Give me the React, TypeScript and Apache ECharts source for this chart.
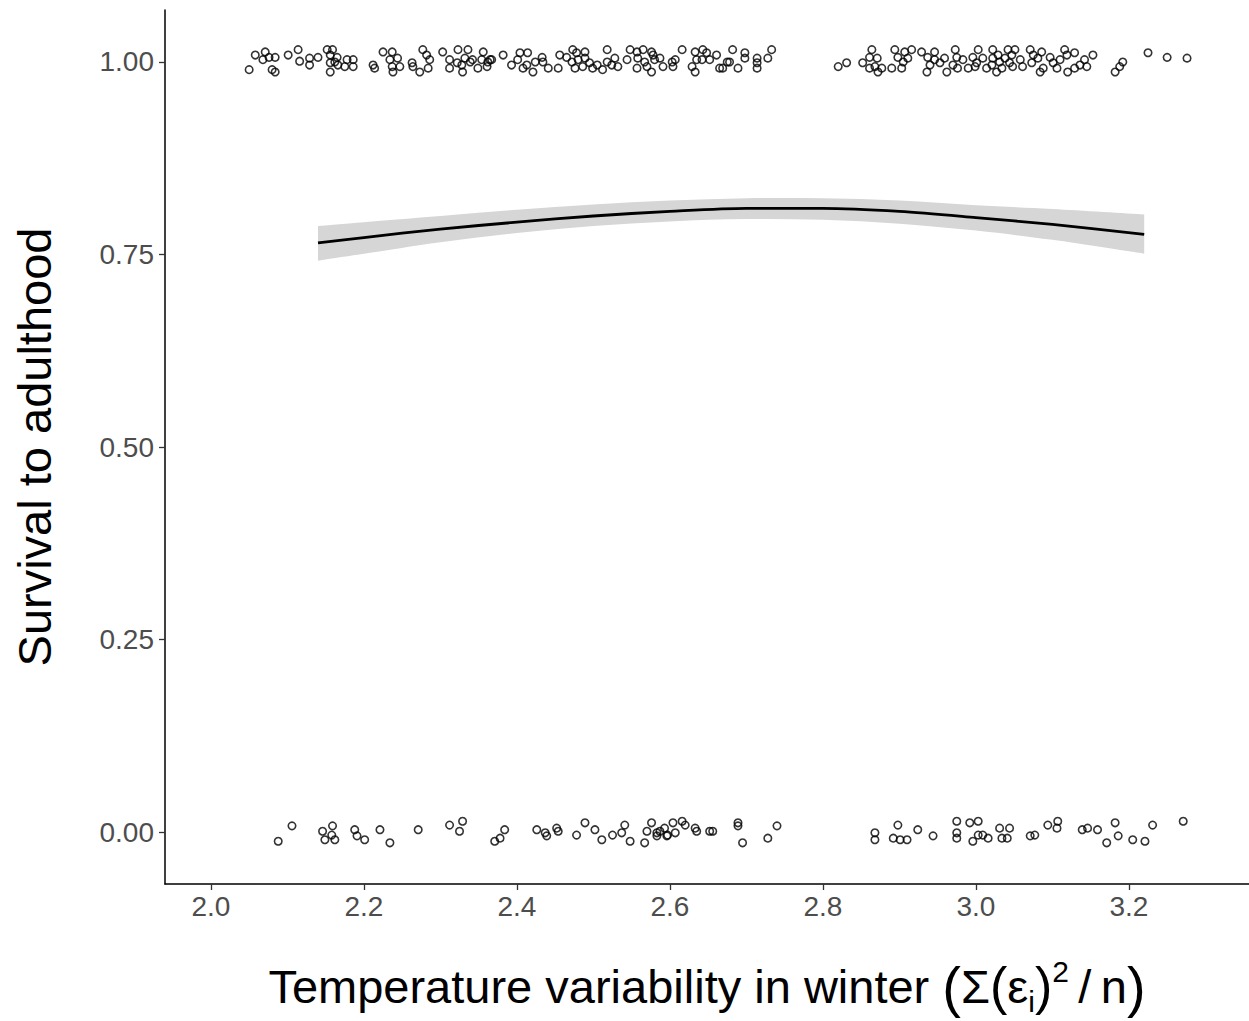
import React, { useEffect, useRef } from "react";
import * as echarts from "echarts";

// Jittered observations: survived (≈1) and died (≈0)
const survivedX = [
  2.050, 2.058, 2.068, 2.071, 2.076, 2.084, 2.080, 2.084, 2.101, 2.114, 2.116, 2.129, 2.129, 2.140, 2.152, 2.159, 2.156, 2.165, 2.156, 2.162,
  2.166, 2.156, 2.178, 2.175, 2.186, 2.186, 2.212, 2.214, 2.225, 2.237, 2.234, 2.244, 2.237, 2.247, 2.238, 2.263, 2.264, 2.277, 2.282, 2.286,
  2.284, 2.273, 2.303, 2.312, 2.323, 2.336, 2.322, 2.328, 2.329, 2.339, 2.342, 2.356, 2.354, 2.362, 2.361, 2.349, 2.365, 2.312, 2.332,
  2.367, 2.382, 2.393, 2.404, 2.414, 2.401, 2.408, 2.413, 2.424, 2.421, 2.433, 2.434, 2.441, 2.454, 2.456, 2.465, 2.473, 2.478, 2.472, 2.480,
  2.489, 2.489, 2.486, 2.476, 2.495, 2.499, 2.505, 2.512, 2.518, 2.518, 2.528, 2.524, 2.532, 2.544, 2.548, 2.557, 2.558, 2.557, 2.565, 2.567,
  2.570, 2.576, 2.578, 2.580, 2.587, 2.576, 2.591, 2.603, 2.607, 2.604, 2.616, 2.633, 2.635, 2.643, 2.648, 2.642, 2.652, 2.661, 2.629, 2.633,
  2.665, 2.675, 2.669, 2.682, 2.689, 2.698, 2.698, 2.714, 2.714, 2.714, 2.728, 2.733, 2.678,
  2.820, 2.831, 2.852, 2.864, 2.861, 2.871, 2.861, 2.868, 2.872, 2.877, 2.894, 2.890, 2.898, 2.903, 2.907, 2.905, 2.916, 2.929, 2.911, 2.937,
  2.940, 2.936, 2.946, 2.946, 2.953, 2.959, 2.962, 2.973, 2.975, 2.970, 2.976, 2.983, 2.990, 2.996, 3.003, 3.001, 2.999, 3.009, 3.014, 3.021,
  3.022, 3.029, 3.031, 3.027, 3.038, 3.042, 3.047, 3.051, 3.044, 3.048, 3.058, 3.061, 3.071, 3.075, 3.081, 3.086, 3.088, 3.084, 3.097, 3.106,
  3.110, 3.116, 3.119, 3.129, 3.120, 3.129, 3.136, 3.142, 3.145, 3.153, 3.182, 3.188, 3.192, 3.225, 3.250, 3.276, 3.022, 3.034, 3.073, 3.101,
];
const survivedY = [
  0.990, 1.009, 1.003, 1.013, 1.006, 1.006, 0.990, 0.987, 1.009, 1.016, 1.001, 1.005, 0.996, 1.006, 1.016, 1.016, 1.009, 1.006, 0.999, 1.000,
  0.996, 0.987, 1.003, 0.994, 1.003, 0.994, 0.996, 0.992, 1.013, 1.013, 1.003, 1.005, 0.994, 0.994, 0.987, 0.999, 0.994, 1.016, 1.009, 1.003,
  0.992, 0.987, 1.013, 1.003, 1.016, 1.016, 0.999, 0.996, 0.987, 1.000, 1.003, 1.013, 1.003, 1.000, 0.994, 0.992, 1.003, 0.992, 1.005,
  1.003, 1.009, 0.996, 1.012, 1.012, 1.003, 0.992, 0.996, 1.000, 0.987, 1.006, 1.000, 0.992, 0.992, 1.009, 1.006, 1.016, 1.012, 1.000, 1.003,
  1.013, 1.005, 0.994, 0.992, 0.999, 0.992, 0.996, 0.990, 1.016, 1.000, 1.005, 0.996, 0.994, 1.003, 1.016, 1.013, 1.005, 0.992, 1.016, 1.000,
  0.994, 1.013, 1.009, 1.003, 1.005, 0.987, 0.994, 1.000, 1.003, 0.994, 1.016, 1.013, 1.003, 1.016, 1.012, 1.003, 1.003, 1.009, 0.994, 0.987,
  0.992, 1.000, 0.992, 1.016, 0.992, 1.012, 1.005, 1.005, 0.999, 0.992, 1.005, 1.016, 1.000,
  0.994, 0.999, 0.999, 1.016, 1.006, 1.005, 0.992, 0.994, 0.987, 0.992, 1.016, 0.992, 1.006, 0.992, 1.013, 1.000, 1.016, 1.013, 1.005, 1.006,
  0.996, 0.987, 1.013, 1.003, 0.999, 1.005, 0.987, 1.016, 1.006, 0.996, 0.992, 1.003, 0.992, 1.006, 1.016, 0.999, 0.994, 1.005, 0.992, 0.996,
  1.005, 1.009, 1.000, 0.987, 1.005, 1.016, 1.009, 1.016, 0.999, 0.994, 1.003, 0.994, 1.016, 1.009, 1.005, 1.013, 0.992, 0.987, 1.006, 0.992,
  1.003, 1.016, 1.009, 1.012, 0.987, 0.992, 0.996, 1.003, 0.994, 1.009, 0.987, 0.994, 1.000, 1.012, 1.006, 1.005, 1.016, 0.992, 0.999, 0.999,
];
const diedX = [
  2.088, 2.106, 2.146, 2.149, 2.159, 2.158, 2.162, 2.188, 2.191, 2.201, 2.221, 2.234, 2.271, 2.312, 2.329, 2.325, 2.371, 2.378, 2.384, 2.426,
  2.437, 2.439, 2.452, 2.454, 2.478, 2.489, 2.502, 2.511, 2.525, 2.537, 2.541, 2.548, 2.567, 2.570, 2.576, 2.583, 2.587, 2.593, 2.597, 2.604,
  2.607, 2.616, 2.620, 2.633, 2.635, 2.652, 2.656, 2.689, 2.689, 2.695, 2.728, 2.740, 2.583, 2.596,
  2.868, 2.868, 2.898, 2.892, 2.901, 2.910, 2.924, 2.944, 2.975, 2.975, 2.975, 2.992, 3.003, 2.996, 3.003, 3.009, 3.016, 3.031, 3.034, 3.041,
  3.044, 3.071, 3.077, 3.094, 3.107, 3.106, 3.139, 3.146, 3.159, 3.182, 3.171, 3.186, 3.205, 3.221, 3.231, 3.271,
];
const diedY = [
  -0.012, 0.008, 0.001, -0.010, 0.008, -0.004, -0.010, 0.003, -0.005, -0.010, 0.003, -0.014, 0.003, 0.009, 0.014, 0.001, -0.012, -0.008, 0.003, 0.003,
  -0.001, -0.005, 0.005, 0.001, -0.004, 0.012, 0.003, -0.010, -0.004, -0.001, 0.009, -0.012, -0.014, 0.001, 0.012, -0.005, 0.001, 0.005, -0.004, 0.012,
  -0.001, 0.014, 0.009, 0.005, 0.001, 0.001, 0.001, 0.012, 0.008, -0.014, -0.008, 0.008, -0.001, -0.005,
  -0.001, -0.010, 0.009, -0.008, -0.010, -0.010, 0.003, -0.005, 0.014, -0.001, -0.008, 0.012, 0.014, -0.012, -0.004, -0.004, -0.008, 0.005, -0.008, -0.008,
  0.005, -0.005, -0.004, 0.009, 0.014, 0.005, 0.003, 0.005, 0.003, 0.012, -0.014, -0.005, -0.010, -0.012, 0.009, 0.014,
];

// Fitted curve and confidence band
const fitX = [2.14, 2.2, 2.3, 2.4, 2.5, 2.6, 2.7, 2.8, 2.9, 3.0, 3.1, 3.22];
const fitY = [0.765, 0.772, 0.783, 0.792, 0.800, 0.806, 0.810, 0.810, 0.806, 0.798, 0.789, 0.776];
const fitUpper = [0.787, 0.792, 0.800, 0.808, 0.815, 0.820, 0.823, 0.823, 0.820, 0.814, 0.809, 0.802];
const fitLower = [0.742, 0.751, 0.766, 0.778, 0.787, 0.793, 0.796, 0.795, 0.790, 0.781, 0.769, 0.751];

const xTicks = [2.0, 2.2, 2.4, 2.6, 2.8, 3.0, 3.2];
const yTicks = [0, 0.25, 0.5, 0.75, 1.0];

const yTitle = "Survival to adulthood";
const xTitleRich =
  "{n|Temperature variability in winter }{P|(}{n|Σ}{p|(}{n|ε}{s|i}{p|)}{u|2}{n|\u2009/\u2009n}{P|)}";

const FONT = "'Liberation Sans', Arial, Helvetica, sans-serif";

// Catmull-Rom spline through pixel points, as SVG path segments (rendering only)
function splineSegments(pts: number[][], withMove: boolean): string {
  let d = withMove ? `M${pts[0][0]},${pts[0][1]}` : `L${pts[0][0]},${pts[0][1]}`;
  for (let i = 0; i < pts.length - 1; i++) {
    const p0 = pts[Math.max(0, i - 1)];
    const p1 = pts[i];
    const p2 = pts[i + 1];
    const p3 = pts[Math.min(pts.length - 1, i + 2)];
    const c1x = p1[0] + (p2[0] - p0[0]) / 6;
    const c1y = p1[1] + (p2[1] - p0[1]) / 6;
    const c2x = p2[0] - (p3[0] - p1[0]) / 6;
    const c2y = p2[1] - (p3[1] - p1[1]) / 6;
    d += `C${c1x},${c1y},${c2x},${c2y},${p2[0]},${p2[1]}`;
  }
  return d;
}

export default function App() {
  const ref = useRef<HTMLDivElement>(null);
  useEffect(() => {
    if (!ref.current) return;
    const chart = echarts.init(ref.current, null, { renderer: "svg" });
    const zip = (a: number[], b: number[]) => a.map((v, i) => [v, b[i]]);

    const axisCommon = {
      type: "value" as const,
      z: 10,
      splitLine: { show: false },
      axisLine: { show: true, onZero: false, lineStyle: { color: "#000", width: 1.5 } },
    };
    const pointStyle = { color: "rgba(0,0,0,0)", borderColor: "#000", borderWidth: 1.6 };

    chart.setOption({
      animation: false,
      backgroundColor: "#ffffff",
      grid: { left: 165, right: 0, top: 10, bottom: 137, containLabel: false },
      xAxis: {
        ...axisCommon,
        min: 1.94,
        max: 3.357,
        axisTick: { show: true, length: 6, lineStyle: { color: "#333", width: 1.3 }, customValues: xTicks },
        axisLabel: {
          customValues: xTicks,
          formatter: (v: number) => v.toFixed(1),
          color: "#4d4d4d",
          fontSize: 28,
          fontFamily: FONT,
          margin: 8,
        },
      },
      yAxis: {
        ...axisCommon,
        min: -0.0675,
        max: 1.0675,
        axisTick: { show: true, length: 6, lineStyle: { color: "#333", width: 1.3 }, customValues: yTicks },
        axisLabel: {
          customValues: yTicks,
          formatter: (v: number) => v.toFixed(2),
          color: "#4d4d4d",
          fontSize: 28,
          fontFamily: FONT,
          margin: 11,
        },
      },
      series: [
        {
          // confidence band between lower and upper bounds
          type: "custom",
          data: [0],
          silent: true,
          z: 2,
          renderItem: (_params: any, api: any) => {
            const up = fitX.map((x, i) => api.coord([x, fitUpper[i]]));
            const lo = fitX.map((x, i) => api.coord([x, fitLower[i]])).reverse();
            const d = splineSegments(up, true) + splineSegments(lo, false) + "Z";
            return {
              type: "path",
              shape: { pathData: d },
              style: { fill: "#d6d6d6", stroke: "none" },
            };
          },
        },
        {
          type: "line",
          data: zip(fitX, fitY),
          symbol: "none",
          smooth: 0.3,
          lineStyle: { color: "#000", width: 2.8 },
          silent: true,
          z: 4,
        },
        {
          type: "scatter",
          data: zip(survivedX, survivedY),
          symbol: "circle",
          symbolSize: 7.5,
          itemStyle: pointStyle,
          silent: true,
          z: 5,
        },
        {
          type: "scatter",
          data: zip(diedX, diedY),
          symbol: "circle",
          symbolSize: 7.5,
          itemStyle: pointStyle,
          silent: true,
          z: 5,
        },
      ],
      graphic: [
        {
          type: "text",
          x: 34,
          y: 447,
          rotation: Math.PI / 2,
          style: {
            text: yTitle,
            font: `47px ${FONT}`,
            fill: "#000",
            align: "center",
            verticalAlign: "middle",
          },
        },
        {
          type: "text",
          x: 707,
          y: 986,
          style: {
            text: xTitleRich,
            fill: "#000",
            align: "center",
            verticalAlign: "middle",
            rich: {
              n: { fontSize: 47, fontFamily: FONT, lineHeight: 60, fill: "#000" },
              P: { fontSize: 56, fontFamily: FONT, lineHeight: 60, fill: "#000" },
              p: { fontSize: 52, fontFamily: FONT, lineHeight: 60, fill: "#000" },
              s: { fontSize: 30, fontFamily: FONT, lineHeight: 30, verticalAlign: "bottom", fill: "#000" },
              u: { fontSize: 30, fontFamily: FONT, lineHeight: 38, verticalAlign: "top", fill: "#000" },
            },
          },
        },
      ],
    });
    return () => chart.dispose();
  }, []);

  return (
    <div
      ref={ref}
      style={{ position: "absolute", left: 0, top: 0, width: 1249, height: 1021, background: "#fff" }}
    />
  );
}
